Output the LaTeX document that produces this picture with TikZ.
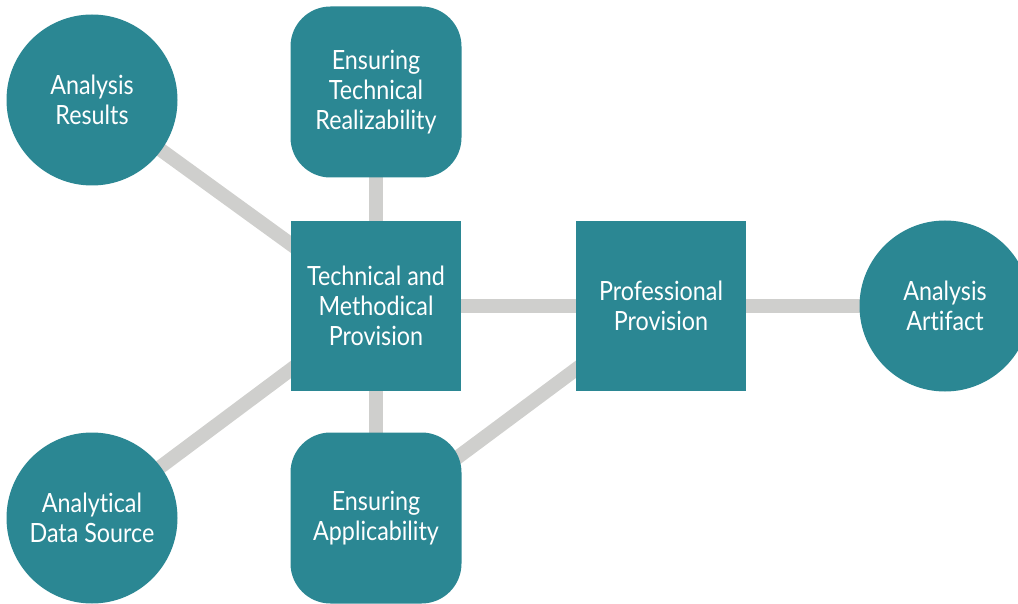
\documentclass[tikz,border=0pt]{standalone}
\usepackage{fontspec}
\setmainfont{Lato}[FakeStretch=0.88,Ligatures={NoCommon}]
\usetikzlibrary{backgrounds}
\definecolor{tealfill}{RGB}{43,135,147}
\definecolor{linkgray}{RGB}{207,207,205}
\tikzset{
  boxtext/.style={text=white,align=center,font=\fontsize{26.5}{30}\selectfont,inner sep=0pt},
  circnode/.style={boxtext,circle,fill=tealfill,minimum size=171pt},
  roundnode/.style={boxtext,rectangle,rounded corners=40pt,fill=tealfill,minimum size=171pt},
  squarenode/.style={boxtext,rectangle,fill=tealfill,minimum size=170pt},
  link/.style={draw=linkgray,line width=14pt}
}
\begin{document}
\begin{tikzpicture}[x=1pt,y=1pt,yscale=-1,xscale=1]
	\useasboundingbox (0,0) rectangle (1018,604); %page is 1018 wide, 604 high

	%Circles
	\node[circnode] (results) at (92,100) {Analysis\\Results};
	\node[circnode] (source) at (92,518) {Analytical\\Data Source};
	\node[circnode] (artifact) at (945,306) {Analysis\\Artifact};
	%Rounded Rects
	\node[roundnode] (realize) at (376,92) {Ensuring\\Technical\\Realizability};
	\node[roundnode] (apply) at (376,518) {Ensuring\\Applicability};
	%Squares
	\node[squarenode] (techmeth) at (376,306) {Technical and\\Methodical\\Provision};
	\node[squarenode] (prof) at (661,306) {Professional\\Provision};

	%Straight Lines
	\begin{pgfonlayer}{background}
		\draw[link] (results.center) -- (techmeth.center);
		\draw[link] (source.center) -- (techmeth.center);
		\draw[link] (realize.center) -- (techmeth.center);
		\draw[link] (apply.center) -- (techmeth.center);
		\draw[link] (techmeth.center) -- (prof.center);
		\draw[link] (apply.center) -- (prof.center);
		\draw[link] (prof.center) -- (artifact.center);
	\end{pgfonlayer}
\end{tikzpicture}
\end{document}
